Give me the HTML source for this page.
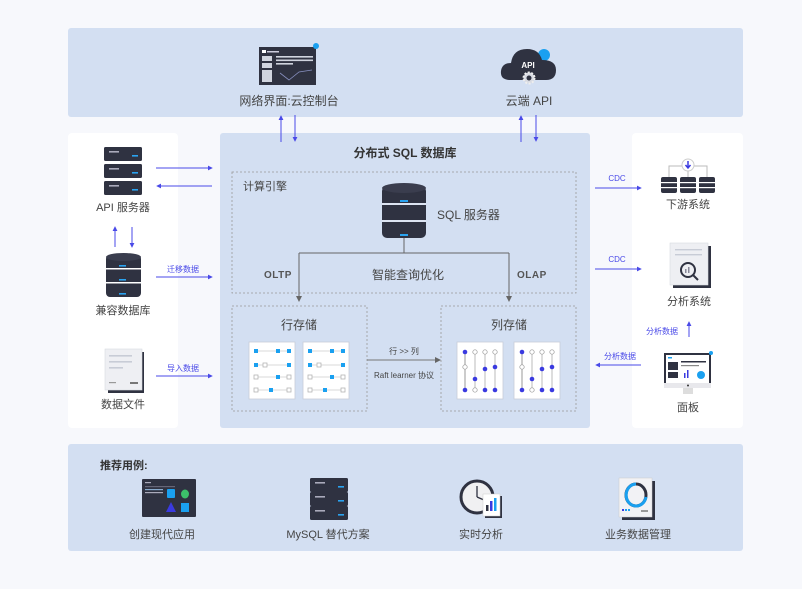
<!DOCTYPE html>
<html><head><meta charset="utf-8">
<style>
html,body{margin:0;padding:0;background:#f7f8fc;}
svg{display:block;font-family:"Liberation Sans","Noto Sans CJK SC",sans-serif;}
</style></head>
<body>
<svg width="802" height="589" viewBox="0 0 802 589" xmlns="http://www.w3.org/2000/svg">
<defs>
<marker id="ab" viewBox="0 0 6 6" refX="5" refY="3" markerWidth="5" markerHeight="5" orient="auto"><path d="M0,0 L6,3 L0,6 z" fill="#4a4ae8"/></marker>
<marker id="ag" viewBox="0 0 6 6" refX="5" refY="3" markerWidth="6" markerHeight="6" orient="auto"><path d="M0,0 L6,3 L0,6 z" fill="#666"/></marker>
<g id="rack">
<rect x="0" y="0" width="38" height="14" rx="1.5" fill="#2f3241"/>
<rect x="5" y="4" width="10" height="1.6" fill="#aab"/>
<rect x="28" y="8" width="6" height="1.6" fill="#2aa3f0"/>
</g>
</defs>

<rect width="802" height="589" fill="#f7f8fc"/>
<rect x="68" y="28" width="675" height="89" rx="3" fill="#d3dff2"/>
<rect x="68" y="133" width="110" height="295" rx="4" fill="#fff"/>
<rect x="220" y="133" width="370" height="295" rx="3" fill="#d3dff2"/>
<rect x="632" y="133" width="111" height="295" rx="4" fill="#fff"/>
<rect x="68" y="444" width="675" height="107" rx="3" fill="#d3dff2"/>

<!-- top icons -->
<g>
<rect x="259" y="47" width="57" height="38" fill="#2f3241"/>
<rect x="262" y="50" width="4" height="3" fill="#fff"/>
<rect x="267" y="51" width="12" height="1.5" fill="#ccd"/>
<rect x="262" y="56" width="10" height="5" fill="#d0d4de"/>
<rect x="262" y="63" width="10" height="5" fill="#d0d4de"/>
<rect x="262" y="70" width="10" height="12" fill="#d0d4de"/>
<rect x="276" y="56" width="37" height="1.6" fill="#d0d4de"/>
<rect x="276" y="59.5" width="37" height="1.6" fill="#d0d4de"/>
<rect x="276" y="63" width="17" height="1.6" fill="#d0d4de"/>
<polyline points="280,73 289,80 299,72 312,70" fill="none" stroke="#8890c0" stroke-width="0.8"/>
<circle cx="316" cy="46" r="3" fill="#1aa0f0"/>
</g>
<text x="289" y="105" font-size="12" fill="#444" text-anchor="middle">网络界面:云控制台</text>
<g>
<circle cx="544" cy="55" r="6" fill="#1aa0f0"/>
<path d="M510,80 Q500,80 501,71 Q502,63 511,63 Q513,49 527,49 Q539,49 542,60 Q556,60 556,70 Q556,80 546,80 Z" fill="#2f3241"/>
<text x="528" y="68" font-size="8" font-weight="bold" fill="#fff" text-anchor="middle">API</text>
<circle cx="529" cy="78" r="5.5" fill="#d8dbe3" stroke="#eee" stroke-width="2" stroke-dasharray="2 1.5"/>
<circle cx="529" cy="78" r="2.5" fill="#2f3241"/>
</g>
<text x="529" y="105" font-size="12" fill="#444" text-anchor="middle">云端 API</text>

<g stroke="#4a4ae8" stroke-width="1">
<line x1="281" y1="142" x2="281" y2="116" marker-end="url(#ab)"/>
<line x1="295" y1="115" x2="295" y2="141" marker-end="url(#ab)"/>
<line x1="521" y1="142" x2="521" y2="116" marker-end="url(#ab)"/>
<line x1="536" y1="115" x2="536" y2="141" marker-end="url(#ab)"/>
</g>

<text x="405" y="157" font-size="12" font-weight="bold" fill="#333" text-anchor="middle">分布式 SQL 数据库</text>
<rect x="232" y="172" width="344" height="121" fill="none" stroke="#999" stroke-width="0.8" stroke-dasharray="2 2"/>
<text x="243" y="190" font-size="11" fill="#444">计算引擎</text>
<g>
<rect x="382" y="186" width="44" height="52" rx="5" fill="#2f3241"/>
<ellipse cx="404" cy="188" rx="22" ry="5" fill="#3a3d4e"/>
<rect x="382" y="203" width="44" height="2" fill="#dde4f2"/>
<rect x="382" y="220" width="44" height="2" fill="#dde4f2"/>
<rect x="400" y="200" width="8" height="2" fill="#2aa3f0"/>
<rect x="400" y="234" width="8" height="2" fill="#2aa3f0"/>
</g>
<text x="437" y="219" font-size="12" fill="#444">SQL 服务器</text>
<g stroke="#666" stroke-width="1" fill="none">
<line x1="404" y1="238" x2="404" y2="253"/>
<line x1="299" y1="253" x2="509" y2="253"/>
<line x1="299" y1="253" x2="299" y2="301" marker-end="url(#ag)"/>
<line x1="509" y1="253" x2="509" y2="301" marker-end="url(#ag)"/>
</g>
<text x="264" y="278" font-size="10" font-weight="bold" fill="#555" letter-spacing="0.5">OLTP</text>
<text x="408" y="279" font-size="12" fill="#444" text-anchor="middle">智能查询优化</text>
<text x="517" y="278" font-size="10" font-weight="bold" fill="#555" letter-spacing="0.5">OLAP</text>

<rect x="232" y="306" width="135" height="105" fill="none" stroke="#999" stroke-width="0.8" stroke-dasharray="2 2"/>
<rect x="441" y="306" width="135" height="105" fill="none" stroke="#999" stroke-width="0.8" stroke-dasharray="2 2"/>
<text x="299" y="329" font-size="12" fill="#444" text-anchor="middle">行存储</text>
<text x="509" y="329" font-size="12" fill="#444" text-anchor="middle">列存储</text>

<g id="rowcard">
<rect x="249" y="342" width="46" height="57" fill="#fff" stroke="#c8ccd8" stroke-width="0.8"/>
<g stroke="#ccc" stroke-width="0.8"><line x1="256" y1="351" x2="289" y2="351"/><line x1="256" y1="365" x2="289" y2="365"/><line x1="256" y1="377" x2="289" y2="377"/><line x1="256" y1="390" x2="289" y2="390"/></g>
<g fill="#1aa0f0"><rect x="254" y="349" width="4" height="4"/><rect x="276" y="349" width="4" height="4"/><rect x="287" y="349" width="4" height="4"/><rect x="254" y="363" width="4" height="4"/><rect x="287" y="363" width="4" height="4"/><rect x="276" y="375" width="4" height="4"/><rect x="269" y="388" width="4" height="4"/></g>
<g fill="#fff" stroke="#aaa" stroke-width="0.7"><rect x="263" y="363" width="4" height="4"/><rect x="254" y="375" width="4" height="4"/><rect x="287" y="375" width="4" height="4"/><rect x="254" y="388" width="4" height="4"/><rect x="287" y="388" width="4" height="4"/></g>
</g>
<use href="#rowcard" x="54"/>

<g id="colcard">
<rect x="457" y="342" width="46" height="57" fill="#fff" stroke="#c8ccd8" stroke-width="0.8"/>
<g stroke="#bbb" stroke-width="1"><line x1="465" y1="352" x2="465" y2="390" stroke="#999"/><line x1="475" y1="352" x2="475" y2="390"/><line x1="485" y1="352" x2="485" y2="390" stroke="#ddd" stroke-width="2"/><line x1="495" y1="352" x2="495" y2="390" stroke="#ddd" stroke-width="2"/></g>
<g fill="#3a3ae0"><circle cx="465" cy="352" r="2.3"/><circle cx="465" cy="390" r="2.3"/><circle cx="475" cy="379" r="2.3"/><circle cx="485" cy="369" r="2.3"/><circle cx="485" cy="390" r="2.3"/><circle cx="495" cy="367" r="2.3"/><circle cx="495" cy="390" r="2.3"/></g>
<g fill="#fff" stroke="#999" stroke-width="0.7"><circle cx="465" cy="367" r="2.2"/><circle cx="475" cy="352" r="2.2"/><circle cx="475" cy="390" r="2.2"/><circle cx="485" cy="352" r="2.2"/><circle cx="495" cy="352" r="2.2"/></g>
</g>
<use href="#colcard" x="57"/>

<line x1="367" y1="360" x2="440" y2="360" stroke="#777" stroke-width="1" marker-end="url(#ag)"/>
<text x="404" y="354" font-size="8" fill="#444" text-anchor="middle">行 &gt;&gt; 列</text>
<text x="404" y="378" font-size="8" fill="#444" text-anchor="middle">Raft learner 协议</text>

<use href="#rack" x="104" y="147"/>
<use href="#rack" x="104" y="164"/>
<use href="#rack" x="104" y="181"/>
<text x="123" y="211" font-size="11" fill="#444" text-anchor="middle">API 服务器</text>
<g>
<rect x="106" y="255" width="35" height="42" rx="4" fill="#2f3241"/>
<ellipse cx="123.5" cy="257" rx="17.5" ry="4" fill="#3a3d4e"/>
<rect x="106" y="268" width="35" height="1.5" fill="#fff"/>
<rect x="106" y="282" width="35" height="1.5" fill="#fff"/>
<rect x="119" y="265" width="7" height="1.6" fill="#2aa3f0"/>
<rect x="119" y="279" width="7" height="1.6" fill="#2aa3f0"/>
<rect x="119" y="293" width="7" height="1.6" fill="#2aa3f0"/>
</g>
<text x="123" y="314" font-size="11" fill="#444" text-anchor="middle">兼容数据库</text>
<g>
<rect x="108" y="352" width="36" height="41" fill="#2f3241"/>
<rect x="105" y="349" width="37" height="41" fill="#eeeff3" stroke="#d8dae0" stroke-width="0.6"/>
<rect x="109" y="355" width="23" height="1.6" fill="#c8ccd6"/>
<rect x="109" y="361" width="23" height="1.6" fill="#c8ccd6"/>
<rect x="109" y="367" width="14" height="1.6" fill="#c8ccd6"/>
<rect x="109" y="382" width="7" height="1.2" fill="#999"/>
<rect x="130" y="382" width="8" height="2" fill="#777"/>
</g>
<text x="123" y="408" font-size="11" fill="#444" text-anchor="middle">数据文件</text>
<g stroke="#4a4ae8" stroke-width="1">
<line x1="156" y1="168" x2="212" y2="168" marker-end="url(#ab)"/>
<line x1="212" y1="186" x2="157" y2="186" marker-end="url(#ab)"/>
<line x1="115" y1="247" x2="115" y2="227" marker-end="url(#ab)"/>
<line x1="132" y1="227" x2="132" y2="247" marker-end="url(#ab)"/>
<line x1="156" y1="277" x2="212" y2="277" marker-end="url(#ab)"/>
<line x1="156" y1="376" x2="212" y2="376" marker-end="url(#ab)"/>
</g>
<text x="183" y="272" font-size="8" fill="#4a4ae8" text-anchor="middle">迁移数据</text>
<text x="183" y="371" font-size="8" fill="#4a4ae8" text-anchor="middle">导入数据</text>

<g stroke="#4a4ae8" stroke-width="1">
<line x1="595" y1="188" x2="641" y2="188" marker-end="url(#ab)"/>
<line x1="595" y1="269" x2="641" y2="269" marker-end="url(#ab)"/>
<line x1="689" y1="337" x2="689" y2="322" marker-end="url(#ab)"/>
<line x1="641" y1="365" x2="596" y2="365" marker-end="url(#ab)"/>
</g>
<text x="617" y="181" font-size="8" fill="#4a4ae8" text-anchor="middle">CDC</text>
<text x="617" y="262" font-size="8" fill="#4a4ae8" text-anchor="middle">CDC</text>
<text x="662" y="334" font-size="8" fill="#4a4ae8" text-anchor="middle">分析数据</text>
<text x="620" y="359" font-size="8" fill="#4a4ae8" text-anchor="middle">分析数据</text>
<g>
<polyline points="669,178 669,166 707,166 707,178" fill="none" stroke="#bbb" stroke-width="1"/>
<line x1="688" y1="170" x2="688" y2="178" stroke="#bbb"/>
<g id="mc"><rect x="661" y="177" width="16" height="16" rx="2" fill="#2f3241"/><rect x="661" y="182" width="16" height="1.2" fill="#fff"/><rect x="661" y="187" width="16" height="1.2" fill="#fff"/></g>
<use href="#mc" x="19"/><use href="#mc" x="38"/>
<circle cx="688" cy="165" r="6" fill="#fff" stroke="#ccc"/>
<path d="M688,161 L688,167 M685.5,165 L688,168 L690.5,165" stroke="#3a3ae0" stroke-width="1.5" fill="none"/>
</g>
<text x="688" y="208" font-size="11" fill="#444" text-anchor="middle">下游系统</text>
<g>
<rect x="673" y="246" width="38" height="42" fill="#2f3241"/>
<rect x="670" y="243" width="38" height="42" fill="#eeeff3" stroke="#d8dae0" stroke-width="0.6"/>
<rect x="675" y="249" width="27" height="1.4" fill="#c8ccd6"/>
<rect x="675" y="254" width="27" height="1.4" fill="#c8ccd6"/>
<circle cx="688" cy="270" r="7" fill="none" stroke="#2f3241" stroke-width="2"/>
<line x1="693" y1="275" x2="698" y2="280" stroke="#2f3241" stroke-width="2"/>
<rect x="685" y="269" width="1.5" height="4" fill="#889"/><rect x="688" y="267" width="1.5" height="6" fill="#889"/>
</g>
<text x="689" y="305" font-size="11" fill="#444" text-anchor="middle">分析系统</text>
<g>
<rect x="664" y="353" width="47" height="35" fill="#2f3241"/>
<rect x="666" y="355" width="43" height="28" fill="#fff"/>
<rect x="664" y="383" width="47" height="5" fill="#e8e8ec"/>
<rect x="683" y="388" width="10" height="6" fill="#ddd"/>
<circle cx="688" cy="385.5" r="1" fill="#333"/>
<rect x="668" y="357" width="4" height="1.5" fill="#1aa0f0"/>
<rect x="668" y="362" width="10" height="8" fill="#2f3241"/>
<rect x="668" y="372" width="10" height="6" fill="#2f3241"/>
<rect x="681" y="361" width="25" height="1.5" fill="#2f3241"/>
<rect x="681" y="365" width="18" height="1.2" fill="#888"/>
<rect x="684" y="373" width="1.5" height="5" fill="#3a3ae0"/><rect x="687" y="370" width="1.5" height="8" fill="#3a3ae0"/>
<circle cx="701" cy="375" r="4" fill="#1aa0f0"/>
<circle cx="711" cy="353" r="2" fill="#1aa0f0"/>
</g>
<text x="688" y="411" font-size="11" fill="#444" text-anchor="middle">面板</text>

<text x="100" y="469" font-size="11" font-weight="bold" fill="#333">推荐用例:</text>
<g>
<rect x="142" y="479" width="54" height="38" rx="1" fill="#2f3241"/>
<rect x="145" y="482" width="6" height="1.2" fill="#aab"/>
<rect x="145" y="486" width="30" height="1.2" fill="#667"/>
<rect x="145" y="489" width="18" height="1.2" fill="#8ac"/>
<rect x="145" y="492" width="18" height="1.2" fill="#aab"/>
<rect x="167" y="489" width="8" height="9" rx="1" fill="#1aa0f0"/>
<ellipse cx="185" cy="494" rx="4" ry="4.5" fill="#3cc06a"/>
<path d="M166,512 L171,502 L176,512 Z" fill="#3a3ae0"/>
<rect x="181" y="503" width="8" height="9" fill="#1aa0f0"/>
</g>
<text x="162" y="538" font-size="11" fill="#444" text-anchor="middle">创建现代应用</text>
<g>
<use href="#rack" x="310" y="478"/>
<use href="#rack" x="310" y="492"/>
<use href="#rack" x="310" y="506"/>
</g>
<text x="328" y="538" font-size="11" fill="#444" text-anchor="middle">MySQL 替代方案</text>
<g>
<circle cx="477" cy="497" r="16" fill="#f0f0f2" stroke="#2f3241" stroke-width="3"/>
<line x1="477" y1="497" x2="477" y2="486" stroke="#2f3241" stroke-width="1.3"/>
<line x1="477" y1="497" x2="484" y2="500" stroke="#2f3241" stroke-width="1.3"/>
<rect x="485" y="496" width="17" height="22" fill="#2f3241"/>
<rect x="483" y="494" width="17" height="22" fill="#fff" stroke="#ccc" stroke-width="0.5"/>
<rect x="486" y="505" width="2.5" height="6" fill="#2f3241"/><rect x="490" y="501" width="2.5" height="10" fill="#3a3ae0"/><rect x="494" y="498" width="2.5" height="13" fill="#1aa0f0"/>
</g>
<text x="481" y="538" font-size="11" fill="#444" text-anchor="middle">实时分析</text>
<g>
<rect x="622" y="481" width="33" height="39" fill="#2f3241"/>
<rect x="619" y="478" width="33" height="39" fill="#f2f2f5" stroke="#ccc" stroke-width="0.5"/>
<ellipse cx="636" cy="495" rx="10" ry="11" fill="none" stroke="#2f3241" stroke-width="3"/>
<path d="M636,484 A10,11 0 1,0 646,497" fill="none" stroke="#1aa0f0" stroke-width="3"/>
<rect x="622" y="509" width="2" height="2" fill="#3a3ae0"/><rect x="625" y="509" width="2" height="2" fill="#1aa0f0"/><rect x="628" y="509" width="2" height="2" fill="#1aa0f0"/>
<rect x="641" y="510" width="7" height="2" fill="#999"/>
</g>
<text x="638" y="538" font-size="11" fill="#444" text-anchor="middle">业务数据管理</text>
</svg>
</body></html>
